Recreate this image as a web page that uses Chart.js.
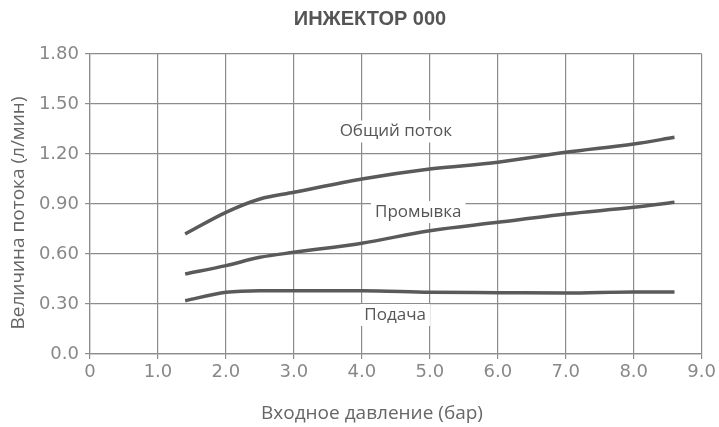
<!DOCTYPE html>
<html>
<head>
<meta charset="utf-8">
<script src="https://cdn.jsdelivr.net/npm/chart.js@4.4.0/dist/chart.umd.min.js"></script>
<style>
  html, body { margin: 0; padding: 0; background: #fff; }
  #wrap { width: 719px; height: 427px; }
</style>
</head>
<body>
<div id="wrap"><canvas id="injector"></canvas></div>
<script>
// pressure, bar
const pressure = [1.4, 2.0, 2.5, 3.0, 4.0, 5.0, 6.0, 7.0, 8.0, 8.6];
// flow, l/min
const totalFlow = [0.72, 0.85, 0.93, 0.97, 1.05, 1.11, 1.15, 1.21, 1.26, 1.30];
const flushFlow = [0.48, 0.53, 0.58, 0.61, 0.665, 0.74, 0.79, 0.84, 0.88, 0.91];
const feedFlow = [0.32, 0.37, 0.38, 0.38, 0.38, 0.37, 0.368, 0.366, 0.372, 0.372];

const seriesNames = ['Общий поток', 'Промывка', 'Подача'];
const xTickLabels = ['0', '1.0', '2.0', '3.0', '4.0', '5.0', '6.0', '7.0', '8.0', '9.0'];
const yTickLabels = ['0.0', '0.30', '0.60', '0.90', '1.20', '1.50', '1.80'];

const chartTitle = 'ИНЖЕКТОР 000';
const xTitle = 'Входное давление (бар)';
const yTitle = 'Величина потока (л/мин)';

// where the series names sit, in data units
const labelPos = [
    { x: 4.5, y: 1.335 },
    { x: 4.83, y: 0.852 },
    { x: 4.49, y: 0.234 }
];

const toPoints = ys => pressure.map((p, i) => ({ x: p, y: ys[i] }));

const lineStyle = {
    borderColor: '#5a5a5a',
    borderWidth: 3.5,
    pointRadius: 0,
    fill: false,
    cubicInterpolationMode: 'monotone'
};

const textFont = '"Open Sans", "Liberation Sans", sans-serif';

const textPlugin = {
    id: 'injectorText',
    beforeDatasetsDraw(chart) {
        const ctx = chart.ctx;
        const xs = chart.scales.x, ys = chart.scales.y;
        ctx.save();
        ctx.font = '17px ' + textFont;
        ctx.textAlign = 'center';
        ctx.textBaseline = 'middle';
        labelPos.forEach((p, i) => {
            const px = xs.getPixelForValue(p.x);
            const py = ys.getPixelForValue(p.y);
            const w = ctx.measureText(seriesNames[i]).width;
            ctx.fillStyle = '#fff';
            ctx.fillRect(px - w / 2 - 4, py - 11, w + 8, 22);
            ctx.fillStyle = '#555';
            ctx.fillText(seriesNames[i], px, py);
        });
        ctx.restore();
    },
    afterDraw(chart) {
        const ctx = chart.ctx;
        ctx.save();
        ctx.textAlign = 'center';
        ctx.textBaseline = 'middle';
        ctx.fillStyle = '#555';
        ctx.font = 'bold 20px "Liberation Sans", Arial, sans-serif';
        ctx.fillText(chartTitle, 370, 19);
        ctx.fillStyle = '#666';
        ctx.font = '19px ' + textFont;
        ctx.fillText(xTitle, 372, 414);
        ctx.translate(19, 213);
        ctx.rotate(-Math.PI / 2);
        ctx.fillText(yTitle, 0, 0);
        ctx.restore();
    }
};

new Chart(document.getElementById('injector').getContext('2d'), {
    type: 'line',
    data: {
        datasets: [
            Object.assign({ label: seriesNames[0], data: toPoints(totalFlow) }, lineStyle),
            Object.assign({ label: seriesNames[1], data: toPoints(flushFlow) }, lineStyle),
            Object.assign({ label: seriesNames[2], data: toPoints(feedFlow) }, lineStyle)
        ]
    },
    options: {
        responsive: true,
        maintainAspectRatio: false,
        animation: false,
        layout: { padding: { top: 54, right: 16, left: 0, bottom: 0 } },
        plugins: {
            legend: { display: false },
            title: { display: false },
            tooltip: { enabled: false }
        },
        scales: {
            x: {
                type: 'linear',
                min: 0,
                max: 9,
                afterFit: s => { s.height = 73; },
                afterBuildTicks: s => { s.ticks = xTickLabels.map((t, i) => ({ value: i })); },
                ticks: {
                    callback: (v, i) => xTickLabels[i],
                    color: '#888',
                    font: { size: 18, family: '"DejaVu Sans", sans-serif' },
                    padding: 3,
                    maxRotation: 0
                },
                grid: { color: '#8c8c8c', lineWidth: 1.2, tickLength: 5 },
                border: { color: '#8c8c8c', width: 1.2 }
            },
            y: {
                min: 0,
                max: 1.8,
                afterFit: s => { s.width = 90; },
                afterBuildTicks: s => { s.ticks = yTickLabels.map((t, i) => ({ value: i * 0.3 })); },
                ticks: {
                    callback: (v, i) => yTickLabels[i],
                    color: '#888',
                    font: { size: 18, family: '"DejaVu Sans", sans-serif' },
                    padding: 6
                },
                grid: { color: '#8c8c8c', lineWidth: 1.2, tickLength: 5 },
                border: { color: '#8c8c8c', width: 1.2 }
            }
        }
    },
    plugins: [textPlugin]
});
</script>
</body>
</html>
